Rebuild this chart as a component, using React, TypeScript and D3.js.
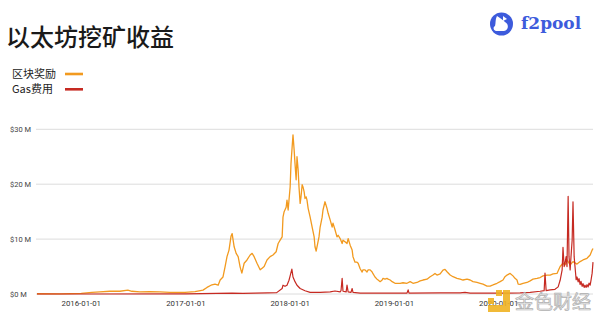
import React from "react";
import * as d3 from "d3";

const titleText = "以太坊挖矿收益";
const legendLabels = ["区块奖励", "Gas费用"];
const seriesColors = ["#f29a1f", "#c62a22"];
const yTicks = [0, 10, 20, 30];
const xTicks = ["2016-01-01", "2017-01-01", "2018-01-01", "2019-01-01", "2020-01-01"];

// Block reward, $M per day
const rewardSeries: [string, number][] = [
  ["2015-07-30", 0.05], ["2015-10-18", 0.03], ["2016-01-01", 0.1], ["2016-02-07", 0.3],
  ["2016-03-06", 0.4], ["2016-04-10", 0.5], ["2016-05-15", 0.5], ["2016-06-12", 0.7],
  ["2016-06-26", 0.5], ["2016-07-24", 0.4], ["2016-08-28", 0.45], ["2016-10-02", 0.4],
  ["2016-11-06", 0.3], ["2016-12-29", 0.3], ["2017-02-02", 0.45], ["2017-03-02", 0.7],
  ["2017-03-16", 1.2], ["2017-03-30", 1.6], ["2017-04-13", 1.8], ["2017-04-24", 1.6],
  ["2017-05-01", 2.55], ["2017-05-11", 3.1], ["2017-05-18", 4.9], ["2017-05-25", 6.8],
  ["2017-06-01", 8.0], ["2017-06-08", 10.5], ["2017-06-12", 11.0], ["2017-06-19", 8.6],
  ["2017-06-26", 7.4], ["2017-07-03", 6.8], ["2017-07-10", 4.9], ["2017-07-16", 3.8],
  ["2017-07-24", 5.6], ["2017-08-03", 6.2], ["2017-08-14", 7.1], ["2017-08-21", 7.4],
  ["2017-08-28", 6.8], ["2017-09-07", 5.6], ["2017-09-18", 4.4], ["2017-09-25", 4.7],
  ["2017-10-02", 5.0], ["2017-10-12", 6.2], ["2017-10-23", 6.8], ["2017-11-02", 7.1],
  ["2017-11-13", 7.7], ["2017-11-20", 9.2], ["2017-11-27", 9.8], ["2017-12-04", 10.4],
  ["2017-12-07", 14.0], ["2017-12-11", 15.0], ["2017-12-18", 15.8], ["2017-12-21", 17.1],
  ["2017-12-25", 15.3], ["2017-12-28", 17.1], ["2018-01-01", 19.5], ["2018-01-04", 23.8],
  ["2018-01-08", 26.8], ["2018-01-11", 29.0], ["2018-01-15", 26.2], ["2018-01-18", 23.8],
  ["2018-01-22", 20.8], ["2018-01-25", 25.0], ["2018-01-29", 22.6], ["2018-02-01", 19.5],
  ["2018-02-05", 16.5], ["2018-02-08", 17.7], ["2018-02-12", 19.9], ["2018-02-15", 19.5],
  ["2018-02-19", 18.6], ["2018-02-22", 17.4], ["2018-02-26", 17.7], ["2018-03-01", 17.1],
  ["2018-03-05", 15.6], ["2018-03-12", 14.0], ["2018-03-19", 12.2], ["2018-03-26", 10.4],
  ["2018-03-29", 8.6], ["2018-04-02", 7.8], ["2018-04-05", 8.6], ["2018-04-12", 10.4],
  ["2018-04-16", 12.2], ["2018-04-23", 14.0], ["2018-04-26", 15.3], ["2018-05-03", 16.8],
  ["2018-05-10", 15.6], ["2018-05-14", 14.7], ["2018-05-21", 13.5], ["2018-05-28", 12.2],
  ["2018-05-31", 12.9], ["2018-06-07", 11.7], ["2018-06-14", 10.4], ["2018-06-18", 10.7],
  ["2018-06-25", 10.1], ["2018-07-02", 9.2], ["2018-07-05", 9.8], ["2018-07-12", 9.5],
  ["2018-07-19", 9.2], ["2018-07-23", 10.1], ["2018-07-30", 8.9], ["2018-08-06", 8.0],
  ["2018-08-09", 6.8], ["2018-08-16", 5.8], ["2018-08-23", 5.8], ["2018-08-27", 5.6],
  ["2018-09-03", 4.6], ["2018-09-10", 4.0], ["2018-09-13", 4.4], ["2018-09-20", 4.4],
  ["2018-09-27", 4.0], ["2018-10-01", 4.4], ["2018-10-08", 4.4], ["2018-10-15", 4.0],
  ["2018-10-18", 3.7], ["2018-10-25", 3.1], ["2018-11-01", 2.7], ["2018-11-05", 2.55],
  ["2018-11-12", 2.25], ["2018-11-19", 2.55], ["2018-11-22", 2.85], ["2018-11-29", 2.7],
  ["2018-12-06", 2.85], ["2018-12-10", 2.7], ["2018-12-17", 2.55], ["2018-12-24", 2.25],
  ["2019-01-03", 1.95], ["2019-01-14", 1.95], ["2019-01-21", 1.95], ["2019-01-31", 2.05],
  ["2019-02-14", 1.95], ["2019-02-25", 2.25], ["2019-03-07", 1.95], ["2019-03-21", 2.1],
  ["2019-04-01", 2.4], ["2019-04-11", 2.55], ["2019-04-25", 2.7], ["2019-05-06", 3.15],
  ["2019-05-16", 3.45], ["2019-05-23", 3.75], ["2019-05-30", 3.45], ["2019-06-10", 3.65],
  ["2019-06-20", 4.35], ["2019-06-27", 4.5], ["2019-07-04", 4.05], ["2019-07-15", 3.45],
  ["2019-07-25", 3.15], ["2019-08-08", 2.85], ["2019-08-19", 2.7], ["2019-08-29", 2.55],
  ["2019-09-12", 2.7], ["2019-09-23", 2.55], ["2019-10-03", 2.25], ["2019-10-17", 2.1],
  ["2019-10-28", 1.95], ["2019-11-07", 1.8], ["2019-11-21", 1.45], ["2019-12-02", 1.45],
  ["2019-12-12", 1.65], ["2019-12-26", 1.95], ["2020-01-06", 2.25], ["2020-01-16", 2.55],
  ["2020-01-23", 3.15], ["2020-01-30", 3.45], ["2020-02-10", 3.75], ["2020-02-20", 3.3],
  ["2020-02-27", 2.85], ["2020-03-05", 2.55], ["2020-03-09", 1.8], ["2020-03-16", 1.75],
  ["2020-03-26", 1.95], ["2020-04-09", 2.1], ["2020-04-20", 2.4], ["2020-04-30", 2.7],
  ["2020-05-14", 2.85], ["2020-05-25", 3.0], ["2020-06-04", 3.3], ["2020-06-18", 3.45],
  ["2020-06-29", 3.45], ["2020-07-09", 3.65], ["2020-07-23", 3.75], ["2020-08-03", 5.0],
  ["2020-08-13", 5.6], ["2020-08-20", 5.3], ["2020-08-27", 6.2], ["2020-09-07", 5.3],
  ["2020-09-17", 5.9], ["2020-10-01", 5.45], ["2020-10-12", 5.9], ["2020-10-22", 6.2],
  ["2020-11-05", 6.5], ["2020-11-16", 7.1], ["2020-11-23", 8.0], ["2020-11-26", 8.3],
];

// Gas fees, $M per day
const gasSeries: [string, number][] = [
  ["2015-07-30", 0], ["2016-01-01", 0], ["2017-01-01", 0.02], ["2017-06-12", 0.15],
  ["2017-07-20", 0.1], ["2017-09-01", 0.15], ["2017-10-15", 0.2], ["2017-11-15", 0.25],
  ["2017-12-04", 1.0], ["2017-12-07", 1.6], ["2017-12-14", 1.4], ["2017-12-21", 1.6],
  ["2017-12-28", 2.5], ["2018-01-01", 3.3], ["2018-01-07", 4.55], ["2018-01-11", 3.1],
  ["2018-01-18", 2.25], ["2018-01-25", 1.6], ["2018-02-05", 1.0], ["2018-02-22", 0.6],
  ["2018-03-12", 0.3], ["2018-04-16", 0.3], ["2018-05-21", 0.4], ["2018-06-07", 0.55],
  ["2018-06-25", 0.4], ["2018-06-28", 0.6], ["2018-07-02", 2.85], ["2018-07-05", 0.5],
  ["2018-07-16", 0.4], ["2018-07-19", 1.6], ["2018-07-23", 0.4], ["2018-08-02", 0.3],
  ["2018-08-06", 1.0], ["2018-08-09", 0.3], ["2018-09-03", 0.15], ["2018-11-12", 0.15],
  ["2019-02-14", 0.15], ["2019-02-18", 0.75], ["2019-02-21", 0.15], ["2019-06-10", 0.2],
  ["2019-08-19", 0.2], ["2019-09-05", 0.3], ["2019-09-23", 0.15], ["2020-01-06", 0.15],
  ["2020-03-16", 0.2], ["2020-04-20", 0.3], ["2020-05-25", 0.5], ["2020-06-08", 0.6],
  ["2020-06-11", 3.8], ["2020-06-15", 0.6], ["2020-06-29", 0.75], ["2020-07-16", 0.85],
  ["2020-07-27", 1.3], ["2020-08-03", 2.5], ["2020-08-10", 4.4], ["2020-08-13", 8.5],
  ["2020-08-17", 5.0], ["2020-08-20", 5.6], ["2020-08-24", 6.8], ["2020-08-27", 5.0],
  ["2020-08-31", 17.8], ["2020-09-03", 6.8], ["2020-09-07", 4.4], ["2020-09-10", 6.8],
  ["2020-09-14", 9.8], ["2020-09-17", 16.8], ["2020-09-21", 6.8], ["2020-09-24", 5.0],
  ["2020-09-28", 2.6], ["2020-10-01", 3.1], ["2020-10-05", 2.2], ["2020-10-08", 2.8],
  ["2020-10-12", 1.7], ["2020-10-15", 2.3], ["2020-10-19", 1.4], ["2020-10-22", 1.9],
  ["2020-10-26", 1.2], ["2020-10-29", 1.6], ["2020-11-02", 1.2], ["2020-11-05", 1.7],
  ["2020-11-09", 1.3], ["2020-11-12", 2.0], ["2020-11-16", 1.6], ["2020-11-19", 2.5],
  ["2020-11-23", 3.8], ["2020-11-26", 5.8],
];

const parse = d3.timeParse("%Y-%m-%d");
const fmt = d3.timeFormat("%Y-%m-%d");

export default function App() {
  const x = d3
    .scaleTime()
    .domain([parse("2015-07-30")!, parse("2020-11-26")!])
    .range([37, 593]);
  const y = d3.scaleLinear().domain([0, 30]).range([294, 129.3]);

  const line = d3
    .line<[string, number]>()
    .x((d) => x(parse(d[0])!))
    .y((d) => y(d[1]));

  const axisFont = "Roboto, 'Noto Sans', sans-serif";
  const cjkFont = "'Noto Sans CJK SC', 'Noto Sans', sans-serif";

  return (
    <svg
      width={600}
      height={318}
      style={{ position: "absolute", left: 0, top: 0, background: "#fff" }}
    >
      <rect x={0} y={0} width={600} height={318} fill="#fff" />
      {/* title */}
      <text x={6} y={46} fontFamily={cjkFont} fontSize={24} fontWeight={500} fill="#1a1a1a">
        {titleText}
      </text>

      {/* legend */}
      {legendLabels.map((lab, i) => (
        <g key={lab}>
          <text x={12} y={78 + i * 15.3} fontFamily={cjkFont} fontSize={11} fill="#222">
            {lab}
          </text>
          <line
            x1={65}
            x2={83}
            y1={74 + i * 15.3}
            y2={74 + i * 15.3}
            stroke={seriesColors[i]}
            strokeWidth={2.6}
          />
        </g>
      ))}

      {/* logo */}
      <g>
        <circle cx={501.5} cy={24} r={11.5} fill="#3d5bdc" />
        <path
          d="M497,16 C500,18 503,20 505,22 C509,24 509,30 504,31 L496,31 C493,30 493,27 495,26 C496,23 495,20 497,16 Z"
          fill="#fff"
        />
        <path d="M503,16 L507,19 L503,21 Z" fill="#fff" />
        <text
          x={521}
          y={29}
          fontFamily="'DejaVu Serif', serif"
          fontWeight="bold"
          fontSize={17}
          fill="#3d5bdc"
        >
          f2pool
        </text>
      </g>

      {/* grid + y labels */}
      {yTicks.map((t) => (
        <g key={t}>
          <line x1={36} x2={593} y1={y(t)} y2={y(t)} stroke="#dcdcdc" strokeWidth={1} />
          <text
            x={10}
            y={y(t) + 2.8}
            fontFamily={axisFont}
            fontSize={7.5}
            fill="#444"
          >
            {`$${t} M`}
          </text>
        </g>
      ))}

      {/* x labels */}
      {xTicks.map((t) => (
        <text
          key={t}
          x={x(parse(t)!)}
          y={306}
          textAnchor="middle"
          fontFamily={axisFont}
          fontSize={7.8}
          fill="#333"
        >
          {fmt(parse(t)!)}
        </text>
      ))}

      {/* series */}
      <path d={line(rewardSeries) || ""} fill="none" stroke={seriesColors[0]} strokeWidth={1.3} strokeLinejoin="round" />
      <path d={line(gasSeries) || ""} fill="none" stroke={seriesColors[1]} strokeWidth={1.2} strokeLinejoin="round" />

      {/* watermark */}
      <g opacity={0.9}>
        <rect x={503} y={290} width={7} height={22} fill="#f0b323" />
        <rect x={488} y={305} width={22} height={7} fill="#f0b323" />
        <rect x={496} y={290} width={6} height={6} fill="#f0b323" />
        <rect x={488} y={298} width={6} height={6} fill="#f0b323" />
        <text
          x={515}
          y={309}
          fontFamily={cjkFont}
          fontSize={19}
          fill="#e6e6e6"
          stroke="#a8a8a8"
          strokeWidth={0.7}
        >
          金色财经
        </text>
      </g>
    </svg>
  );
}
